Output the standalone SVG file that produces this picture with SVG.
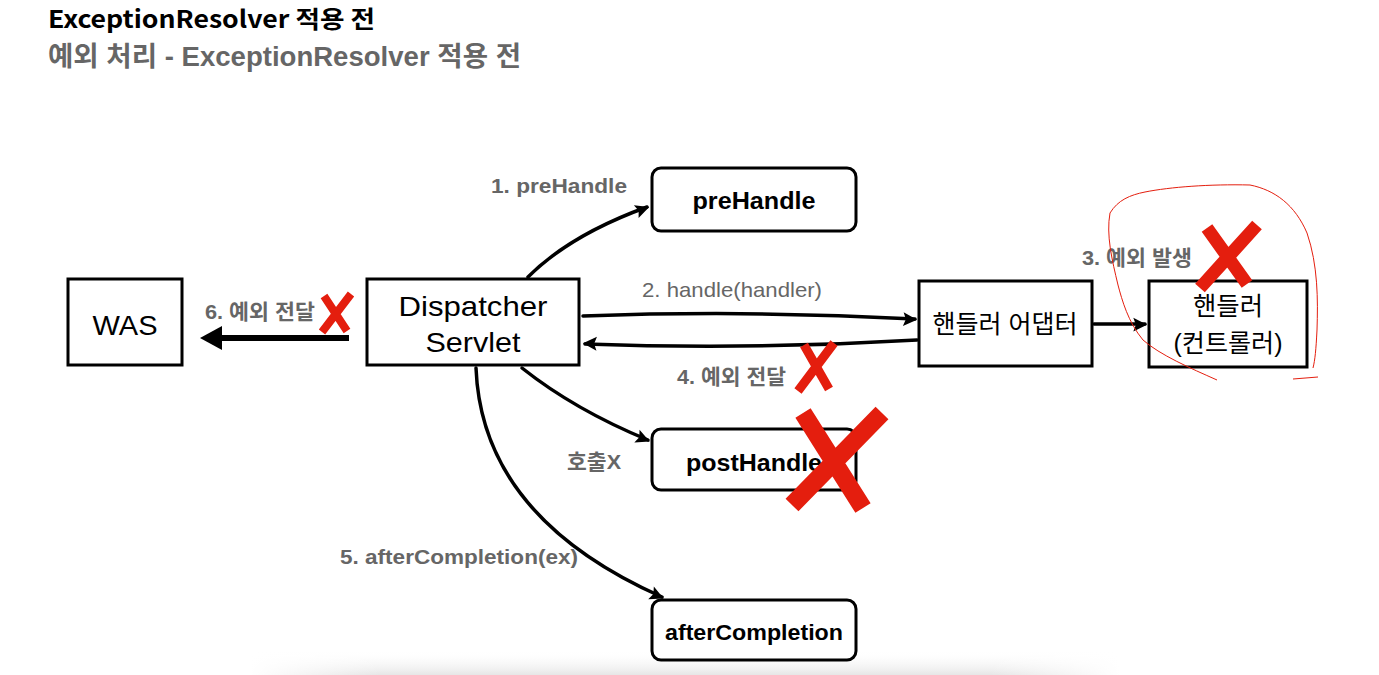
<svg xmlns="http://www.w3.org/2000/svg" width="1379" height="675" viewBox="0 0 1379 675">
<defs>
<style>
.box{fill:#fff;stroke:#000;stroke-width:3}
.rbox{fill:#fff;stroke:#000;stroke-width:3}
.t{font-family:"Liberation Sans","Noto Sans CJK KR",sans-serif;fill:#000;text-anchor:middle}
.lbl{font-family:"Liberation Sans","Noto Sans CJK KR",sans-serif;fill:#666;font-weight:bold;font-size:21px}
.conn{fill:none;stroke:#000;stroke-width:3.5;stroke-linecap:round}
.rx{stroke:#e41e0e;stroke-linecap:butt;fill:none}
</style>
<marker id="ah" viewBox="0 0 12 12" refX="11" refY="6" markerWidth="9" markerHeight="9" markerUnits="userSpaceOnUse" orient="auto" overflow="visible">
<path d="M-4,-2 L12,6 L-4,14 L-1,6 Z" fill="#000" transform="scale(1.15)"/>
</marker>
<linearGradient id="shadow" x1="0" y1="0" x2="0" y2="1">
<stop offset="0" stop-color="#fff" stop-opacity="0"/>
<stop offset="1" stop-color="#e6e6e6"/>
</linearGradient>
<linearGradient id="shadowH" x1="0" y1="0" x2="1" y2="0">
<stop offset="0" stop-color="#fff"/>
<stop offset="0.15" stop-color="#fff" stop-opacity="0"/>
<stop offset="0.85" stop-color="#fff" stop-opacity="0"/>
<stop offset="1" stop-color="#fff"/>
</linearGradient>
</defs>
<rect width="1379" height="675" fill="#fff"/>
<rect x="250" y="650" width="870" height="25" fill="url(#shadow)"/>
<rect x="250" y="650" width="870" height="25" fill="url(#shadowH)"/>

<text x="48" y="28" font-family="'Noto Sans CJK KR','Liberation Sans',sans-serif" font-weight="bold" font-size="24" fill="#000" textLength="327" lengthAdjust="spacingAndGlyphs">ExceptionResolver 적용 전</text>
<text x="48" y="66" font-family="'Liberation Sans','Noto Sans CJK KR',sans-serif" font-weight="bold" font-size="27" fill="#666" textLength="473" lengthAdjust="spacingAndGlyphs">예외 처리 - ExceptionResolver 적용 전</text>

<g id="connectors">
<path class="conn" d="M528 277 Q570 235 647 207" marker-end="url(#ah)"/>
<path class="conn" d="M583 316 Q750 310 915 319" marker-end="url(#ah)"/>
<path class="conn" d="M917 340 Q750 350 585 344" marker-end="url(#ah)"/>
<path class="conn" d="M1094 324 L1145 324" marker-end="url(#ah)"/>
<path class="conn" d="M522 368 Q575 410 648 440" marker-end="url(#ah)"/>
<path class="conn" d="M476 368 C480 470 545 545 662 597" marker-end="url(#ah)"/>
<line x1="349" y1="338" x2="215" y2="338" stroke="#000" stroke-width="6"/>
<path d="M200 338 L222 326 L222 350 Z" fill="#000"/>
</g>

<g id="labels">
<text class="lbl" x="491" y="193" textLength="136" lengthAdjust="spacingAndGlyphs">1. preHandle</text>
<text x="642" y="297" font-family="'Liberation Sans','Noto Sans CJK KR',sans-serif" font-size="21" fill="#666" textLength="180" lengthAdjust="spacingAndGlyphs">2. handle(handler)</text>
<text class="lbl" x="677" y="384" textLength="109" lengthAdjust="spacingAndGlyphs">4. 예외 전달</text>
<text class="lbl" x="1082" y="265" textLength="110" lengthAdjust="spacingAndGlyphs">3. 예외 발생</text>
<text class="lbl" x="205" y="319" textLength="110" lengthAdjust="spacingAndGlyphs">6. 예외 전달</text>
<text class="lbl" x="567" y="469" textLength="54" lengthAdjust="spacingAndGlyphs">호출X</text>
<text class="lbl" x="340" y="564" textLength="238" lengthAdjust="spacingAndGlyphs">5. afterCompletion(ex)</text>
</g>

<g id="node-was">
<rect class="box" x="68" y="279" width="114" height="86"/>
<text class="t" x="125" y="335" font-size="28" textLength="65" lengthAdjust="spacingAndGlyphs">WAS</text>
</g>
<g id="node-dispatcher">
<rect class="box" x="367" y="279" width="212" height="86"/>
<text class="t" x="473" y="316" font-size="28" textLength="149" lengthAdjust="spacingAndGlyphs">Dispatcher</text>
<text class="t" x="473" y="352" font-size="28" textLength="95" lengthAdjust="spacingAndGlyphs">Servlet</text>
</g>
<g id="node-prehandle">
<rect class="rbox" x="652" y="168" width="204" height="63" rx="9"/>
<text class="t" x="754" y="209" font-size="23" font-weight="bold" textLength="123" lengthAdjust="spacingAndGlyphs">preHandle</text>
</g>
<g id="node-adapter">
<rect class="box" x="919" y="281" width="173" height="85"/>
<text class="t" x="1005" y="333" font-size="25" textLength="145" lengthAdjust="spacingAndGlyphs">핸들러 어댑터</text>
</g>
<g id="node-handler">
<rect class="box" x="1149" y="281" width="158" height="86"/>
<text class="t" x="1228" y="315" font-size="25" textLength="70" lengthAdjust="spacingAndGlyphs">핸들러</text>
<text class="t" x="1228" y="352" font-size="25" textLength="109" lengthAdjust="spacingAndGlyphs">(컨트롤러)</text>
</g>
<g id="node-posthandle">
<rect class="rbox" x="652" y="429" width="204" height="61" rx="9"/>
<text class="t" x="754" y="471" font-size="23" font-weight="bold" textLength="136" lengthAdjust="spacingAndGlyphs">postHandle</text>
</g>
<g id="node-aftercompletion">
<rect class="rbox" x="652" y="600" width="204" height="60" rx="9"/>
<text class="t" x="754" y="640" font-size="22" font-weight="bold" textLength="178" lengthAdjust="spacingAndGlyphs">afterCompletion</text>
</g>

<g id="annotations">
<path d="M1217 380 C1190 368 1160 355 1143 340 C1128 322 1122 300 1118 285 C1112 260 1106 235 1110 213 C1118 200 1130 195 1145 192 C1170 187 1210 184 1250 185 C1275 190 1295 205 1307 233 C1318 265 1318 300 1317 330 C1316 350 1315 360 1313 368" fill="none" stroke="#e41e0e" stroke-width="1"/>
<path d="M1293 379 L1318 377" fill="none" stroke="#e41e0e" stroke-width="1"/>
<path class="rx" d="M1207 228 L1247 284 M1257 225 L1200 288" stroke-width="13"/>
<path class="rx" d="M324 296 L347 331 M351 294 L322 332" stroke-width="8"/>
<path class="rx" d="M804 345 L829 389 M834 343 L798 391" stroke-width="9"/>
<path class="rx" d="M803 413 L863 508 M882 413 L792 505" stroke-width="18"/>
</g>
</svg>
